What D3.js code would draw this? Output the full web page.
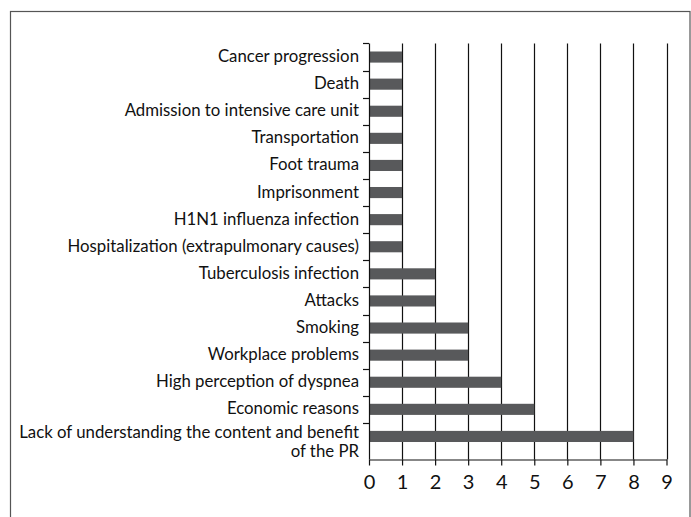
<!DOCTYPE html>
<html>
<head>
<meta charset="utf-8">
<script src="https://cdn.jsdelivr.net/npm/d3@7"></script>
<style>
  body { margin: 0; background: #fff; }
  svg text { font-family: Lato, "Liberation Sans", sans-serif; fill: #111; }
</style>
</head>
<body>
<div id="chart"></div>
<script>
// reasons for dropping out, top to bottom
const reasons = [
  "Cancer progression",
  "Death",
  "Admission to intensive care unit",
  "Transportation",
  "Foot trauma",
  "Imprisonment",
  "H1N1 influenza infection",
  "Hospitalization (extrapulmonary causes)",
  "Tuberculosis infection",
  "Attacks",
  "Smoking",
  "Workplace problems",
  "High perception of dyspnea",
  "Economic reasons",
  "Lack of understanding the content and benefit|of the PR"
];
const counts = [1, 1, 1, 1, 1, 1, 1, 1, 2, 2, 3, 3, 4, 5, 8];
const xTicks = [0, 1, 2, 3, 4, 5, 6, 7, 8, 9];

const config = {
  width: 691,
  height: 517,
  left: 369,
  right: 666.5,
  top: 43.5,
  step: 27.1,
  axisY: 459.5
};

const svg = d3.select("#chart")
  .append("svg")
  .attr("width", config.width)
  .attr("height", config.height);

// outer frame (bottom edge runs off the picture)
svg.append("rect")
  .attr("x", 10.5)
  .attr("y", 11.5)
  .attr("width", 679.5)
  .attr("height", 530)
  .attr("fill", "none")
  .attr("stroke", "#555")
  .attr("stroke-width", 1.2);

const x = d3.scaleLinear()
  .domain([0, 9])
  .range([config.left, config.right]);

const y = d3.scaleBand()
  .domain(reasons)
  .range([config.top, config.top + config.step * reasons.length])
  .paddingInner(0.59)
  .paddingOuter(0.295);

const gap = (y.step() - y.bandwidth()) / 2;

// vertical grid lines
svg.append("g")
  .selectAll("line")
  .data(xTicks.filter((d) => d > 0))
  .join("line")
  .attr("x1", (d) => Math.round(x(d)) + 0.5)
  .attr("x2", (d) => Math.round(x(d)) + 0.5)
  .attr("y1", config.top)
  .attr("y2", config.axisY)
  .attr("stroke", "#111")
  .attr("stroke-width", 1.2);

// bars
svg.append("g")
  .selectAll("rect")
  .data(reasons)
  .join("rect")
  .attr("x", x(0))
  .attr("y", (d) => y(d))
  .attr("width", (d, i) => x(counts[i]) - x(0))
  .attr("height", y.bandwidth())
  .attr("fill", "#58595b");

// y axis line and ticks at band edges
const yAxis = svg.append("g");
yAxis.append("line")
  .attr("x1", Math.round(x(0)) + 0.5)
  .attr("x2", Math.round(x(0)) + 0.5)
  .attr("y1", config.top)
  .attr("y2", config.axisY)
  .attr("stroke", "#111")
  .attr("stroke-width", 1.2);
yAxis.selectAll(".ytick")
  .data(reasons)
  .join("line")
  .attr("class", "ytick")
  .attr("x1", x(0) - 6)
  .attr("x2", x(0))
  .attr("y1", (d) => Math.round(y(d) - gap) + 0.5)
  .attr("y2", (d) => Math.round(y(d) - gap) + 0.5)
  .attr("stroke", "#111")
  .attr("stroke-width", 1.2);

// category labels (a "|" splits a label onto two lines)
const labels = yAxis.selectAll(".ylabel")
  .data(reasons)
  .join("text")
  .attr("class", "ylabel")
  .attr("text-anchor", "end")
  .attr("font-size", 16.8)
  .attr("x", x(0) - 10);
labels.each(function (d) {
  const lines = d.split("|");
  const cy = y(d) + y.bandwidth() / 2;
  const shift = (lines.length - 1) * 3;
  d3.select(this)
    .selectAll("tspan")
    .data(lines)
    .join("tspan")
    .attr("x", x(0) - 10)
    .attr("y", (l, i) => cy + 5 - shift + i * 19)
    .text((l) => l);
});

// x axis
const xAxis = svg.append("g")
  .attr("transform", `translate(0,${config.axisY})`)
  .call(d3.axisBottom(x).tickValues(xTicks).tickSize(6).tickSizeOuter(0).tickFormat(d3.format("d")));
xAxis.select(".domain").attr("stroke", "#111").attr("stroke-width", 1.2);
xAxis.selectAll(".tick line").attr("stroke", "#111").attr("stroke-width", 1.2);
xAxis.selectAll(".tick text")
  .attr("font-family", "Lato, sans-serif")
  .attr("font-size", 20)
  .attr("fill", "#111")
  .attr("y", 29.5)
  .attr("dy", 0);
</script>
</body>
</html>
